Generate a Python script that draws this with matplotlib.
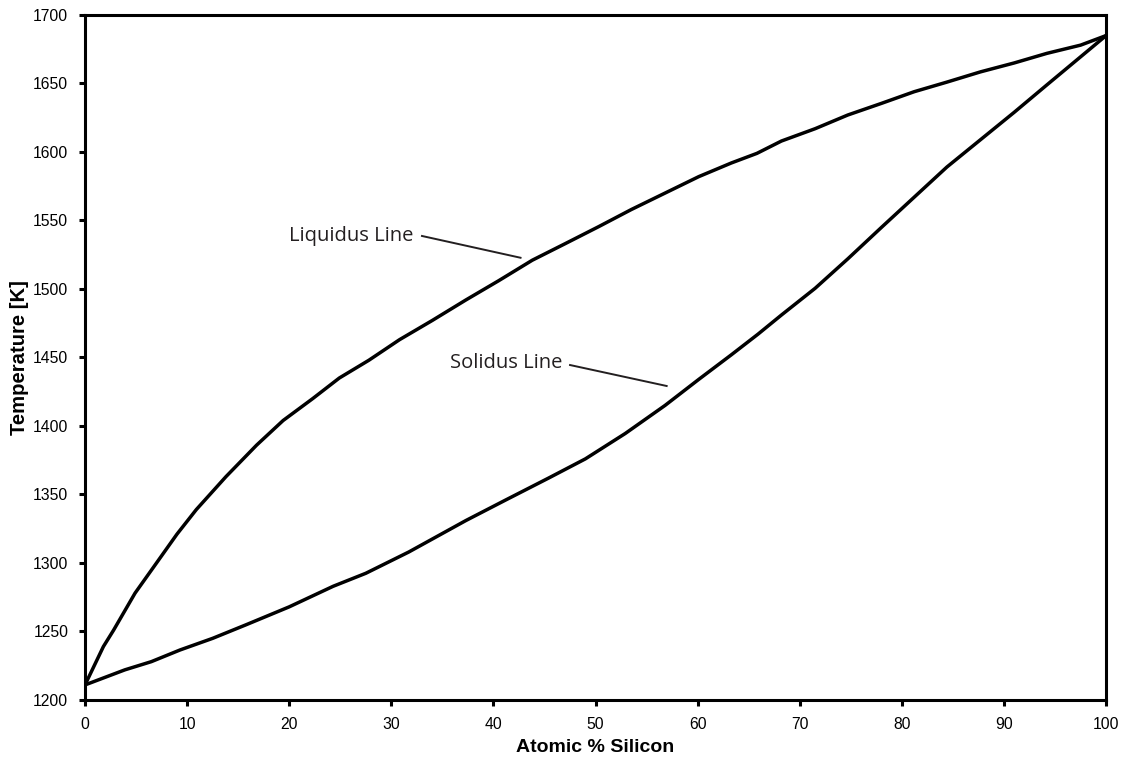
import matplotlib
matplotlib.use("Agg")
import matplotlib.pyplot as plt

# liquidus / solidus points (atomic % Si, K)
x_liq = [0, 1.8, 2.8, 4.9, 7.0, 9.0, 10.9, 13.8, 16.8, 19.4, 22.3, 24.9, 27.8, 30.8, 34.0,
         37.3, 40.5, 43.8, 47.0, 50.3, 53.5, 56.8, 60.1, 63.3, 65.8, 68.2, 71.5, 74.7, 78.0,
         81.2, 84.4, 87.7, 91.0, 94.2, 97.5, 100]
t_liq = [1211, 1239, 1251, 1278, 1300, 1321, 1339, 1363, 1386, 1404, 1420, 1435, 1448, 1463,
         1477, 1492, 1506, 1521, 1533, 1545.5, 1558, 1570, 1582, 1592, 1599, 1608, 1617, 1627,
         1635.5, 1644, 1651, 1658.5, 1665, 1672, 1678, 1685]

x_sol = [0, 3.9, 6.5, 9.3, 12.5, 15.8, 20.0, 24.3, 27.5, 31.7, 37.3, 41.2, 45.4, 49.0, 52.9,
         56.8, 60.1, 63.3, 65.9, 68.2, 71.5, 74.7, 78.0, 81.2, 84.4, 87.7, 91.0, 94.2, 100]
t_sol = [1211, 1222, 1228, 1236.5, 1245, 1255, 1268, 1283, 1292.5, 1308, 1331, 1346, 1362,
         1376, 1394.5, 1415, 1434, 1452, 1467, 1481, 1500.5, 1522, 1545, 1567, 1589, 1609, 1629,
         1649, 1685]

xticks = list(range(0, 101, 10))
yticks = list(range(1200, 1701, 50))

fig = plt.figure(figsize=(11.23, 7.57), dpi=100)
ax = fig.add_axes([0.0757, 0.0753, 0.9093, 0.9049])

ax.plot(x_liq, t_liq, color="black", lw=2.5, solid_joinstyle="round", solid_capstyle="round")
ax.plot(x_sol, t_sol, color="black", lw=2.5, solid_joinstyle="round", solid_capstyle="round")

ax.set_xlim(0, 100)
ax.set_ylim(1200, 1700)
ax.set_xticks(xticks)
ax.set_yticks(yticks)
ax.tick_params(direction="out", length=4.5, width=2.2, labelsize=11.3, pad=7.5,
               labelfontfamily="Liberation Sans")
for s in ax.spines.values():
    s.set_linewidth(2.2)

ax.set_xlabel("Atomic % Silicon", fontsize=14, fontweight="bold",
              family="Liberation Sans", labelpad=5)
ax.set_ylabel("Temperature [K]", fontsize=14.6, fontweight="bold",
              family="Liberation Sans", labelpad=3)

# annotations with leader lines
ax.text(32.2, 1538.7, "Liquidus Line", ha="right", va="center", fontsize=14.5,
        family="Open Sans", color="#231f20")
ax.plot([33.0, 42.65], [1538.7, 1522.8], color="#231f20", lw=1.4)
ax.text(46.7, 1445.8, "Solidus Line", ha="right", va="center", fontsize=14.5,
        family="Open Sans", color="#231f20")
ax.plot([47.5, 56.96], [1444.5, 1429.2], color="#231f20", lw=1.4)

fig.savefig("out.png", dpi=100)
